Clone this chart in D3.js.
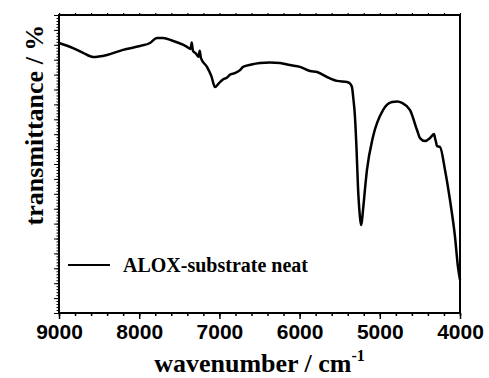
<!DOCTYPE html>
<html>
<head>
<meta charset="utf-8">
<script src="https://cdn.jsdelivr.net/npm/d3@7"></script>
<style>
  body { margin: 0; background: #fff; }
  svg { display: block; }
</style>
</head>
<body>
<div id="chart"></div>
<script>
// wavenumber (cm^-1) and transmittance (%)
const wavenumber = [9000, 8825, 8700, 8576, 8401, 8202, 7990, 7865, 7778, 7703, 7578, 7470, 7404, 7360, 7345, 7330, 7290, 7260, 7245, 7230,
  7155, 7100, 7055, 7010, 6960, 6905, 6868, 6806, 6743, 6706, 6600, 6494, 6370, 6244, 6120, 5995, 5870, 5783, 5658, 5534,
  5409, 5370, 5347, 5330, 5310, 5290, 5272, 5250, 5234, 5222, 5209, 5160, 5085, 4960, 4848, 4780, 4723, 4623, 4536, 4499,
  4436, 4374, 4324, 4310, 4299, 4287, 4249, 4187, 4125, 4062, 4025, 4000];
const transmittance = [90.6, 88.9, 87.3, 85.9, 86.6, 88.3, 89.6, 90.6, 92.3, 92.3, 91.3, 90.2, 89.3, 88.6, 90.8, 88.0, 87.0, 86.0, 88.0, 85.5,
  82.6, 79.5, 75.8, 77.0, 78.3, 79.0, 80.0, 80.5, 81.5, 82.6, 83.4, 83.9, 84.1, 83.9, 83.2, 82.6, 81.2, 80.9, 79.2, 77.9,
  77.5, 77.0, 75.8, 72.0, 66.0, 55.0, 42.3, 33.0, 29.5, 31.0, 34.6, 48.0, 59.1, 68.1, 70.8, 71.0, 70.5, 68.1, 61.4, 58.7,
  57.7, 58.7, 60.1, 58.5, 57.4, 56.0, 55.7, 48.0, 37.9, 25.5, 15.4, 11.1];
const xTicks = [9000, 8000, 7000, 6000, 5000, 4000];
const seriesName = 'ALOX-substrate neat';

const width = 489, height = 378;
const margin = { top: 15, right: 29, bottom: 65, left: 59 };

const svg = d3.select('#chart').append('svg')
  .attr('width', width)
  .attr('height', height);

const x = d3.scaleLinear().domain([9000, 4000]).range([margin.left, width - margin.right]);
const y = d3.scaleLinear().domain([0, 100]).range([height - margin.bottom, margin.top]);

const data = wavenumber.map((w, i) => ({ w, t: transmittance[i] }));

// frame
svg.append('rect')
  .attr('x', margin.left)
  .attr('y', margin.top)
  .attr('width', width - margin.left - margin.right)
  .attr('height', height - margin.top - margin.bottom)
  .attr('fill', 'none')
  .attr('stroke', '#000')
  .attr('stroke-width', 2);

// bottom axis
const xMinor = d3.range(9000, 3999, -200);
const bottom = svg.append('g').attr('transform', `translate(0,${height - margin.bottom})`);
bottom.call(d3.axisBottom(x).tickValues(xMinor).tickSize(3).tickFormat(''))
  .call(g => g.select('.domain').remove());
bottom.append('g').call(d3.axisBottom(x).tickValues(xTicks).tickSize(6).tickPadding(5).tickFormat(d3.format('d')))
  .call(g => g.select('.domain').remove())
  .selectAll('text')
  .attr('font-family', 'Liberation Sans, Arial, sans-serif')
  .attr('font-weight', 'bold')
  .attr('font-size', 21)
  .attr('fill', '#000');
bottom.selectAll('line').attr('stroke', '#000').attr('stroke-width', 1.5);

// top axis (ticks only)
svg.append('g').attr('transform', `translate(0,${margin.top})`)
  .call(d3.axisTop(x).tickValues(xMinor).tickSize(2).tickFormat(''))
  .call(g => g.select('.domain').remove())
  .selectAll('line').attr('stroke', '#000').attr('stroke-width', 1.2);

// left axis (ticks only, no labels)
const yMinor = d3.range(0, 100.01, 1);
const yMajor = d3.range(0, 100.01, 5);
const left = svg.append('g').attr('transform', `translate(${margin.left},0)`);
left.call(d3.axisLeft(y).tickValues(yMinor).tickSize(2.5).tickFormat(''))
  .call(g => g.select('.domain').remove());
left.append('g').call(d3.axisLeft(y).tickValues(yMajor).tickSize(5).tickFormat(''))
  .call(g => g.select('.domain').remove());
left.selectAll('line').attr('stroke', '#000').attr('stroke-width', 1);

// spectrum
const line = d3.line()
  .x(d => x(d.w))
  .y(d => y(d.t))
  .curve(d3.curveMonotoneX);

svg.append('path')
  .datum(data)
  .attr('fill', 'none')
  .attr('stroke', '#000')
  .attr('stroke-width', 2.5)
  .attr('stroke-linejoin', 'round')
  .attr('d', line);

// legend
const legend = svg.append('g').attr('transform', 'translate(68,265)');
legend.append('line')
  .attr('x1', 0).attr('x2', 42)
  .attr('stroke', '#000').attr('stroke-width', 2);
legend.append('text')
  .attr('x', 55).attr('y', 7)
  .attr('font-family', 'Liberation Serif, Times New Roman, serif')
  .attr('font-weight', 'bold')
  .attr('font-size', 20)
  .text(seriesName);

// axis titles
const xTitle = svg.append('text')
  .attr('x', (margin.left + width - margin.right) / 2)
  .attr('y', 372)
  .attr('text-anchor', 'middle')
  .attr('font-family', 'Liberation Serif, Times New Roman, serif')
  .attr('font-weight', 'bold')
  .attr('font-size', 26);
xTitle.append('tspan').text('wavenumber / cm');
xTitle.append('tspan').attr('dy', -11).attr('font-size', 16).text('-1');

svg.append('text')
  .attr('transform', 'translate(43,125) rotate(-90)')
  .attr('text-anchor', 'middle')
  .attr('font-family', 'Liberation Serif, Times New Roman, serif')
  .attr('font-weight', 'bold')
  .attr('font-size', 26)
  .text('transmittance / %');
</script>
</body>
</html>
